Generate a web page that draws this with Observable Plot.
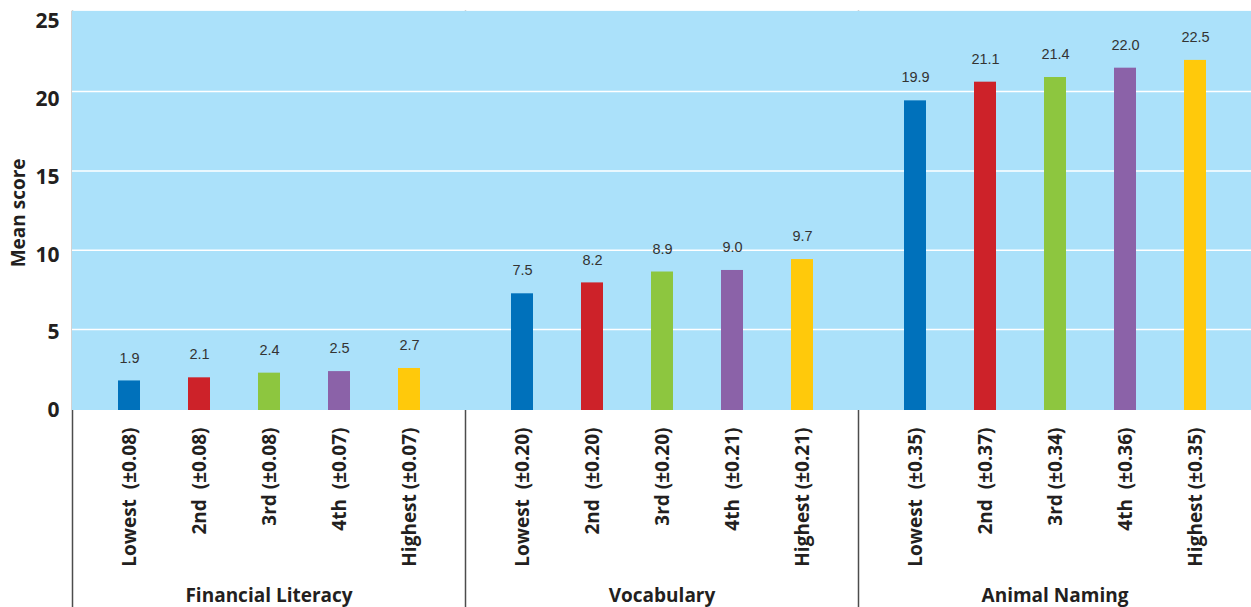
<!DOCTYPE html>
<html>
<head>
<meta charset="utf-8">
<script src="https://cdn.jsdelivr.net/npm/d3@7"></script>
<script src="https://cdn.jsdelivr.net/npm/@observablehq/plot@0.6"></script>
<style>
  html, body { margin: 0; padding: 0; background: #fff; }
</style>
</head>
<body>
<div id="chart"></div>
<script>
const groups = ["Financial Literacy", "Vocabulary", "Animal Naming"];
const quintiles = ["Lowest", "2nd", "3rd", "4th", "Highest"];
const quintileLabels = ["Lowest\u00a0 ", "2nd\u00a0 ", "3rd ", "4th\u00a0 ", "Highest "];
const financialLiteracy = [1.9, 2.1, 2.4, 2.5, 2.7];
const financialLiteracySE = [0.08, 0.08, 0.08, 0.07, 0.07];
const vocabulary = [7.5, 8.2, 8.9, 9.0, 9.7];
const vocabularySE = [0.20, 0.20, 0.20, 0.21, 0.21];
const animalNaming = [19.9, 21.1, 21.4, 22.0, 22.5];
const animalNamingSE = [0.35, 0.37, 0.34, 0.36, 0.35];
const yTicks = [0, 5, 10, 15, 20, 25];
// white gridlines as they sit in the reference (slightly off the tick values)
const gridLines = [5.2, 10.3, 15.4, 20.5];
const panelTop = 25.65;
const colors = ["#0071bb", "#cd2229", "#8dc63f", "#8b62a8", "#ffc90b"];

const seriesValues = [financialLiteracy, vocabulary, animalNaming];
const seriesSE = [financialLiteracySE, vocabularySE, animalNamingSE];
const data = [];
groups.forEach((g, gi) => {
  quintiles.forEach((q, qi) => {
    data.push({
      group: g,
      quintile: q,
      value: seriesValues[gi][qi],
      label: quintileLabels[qi] + "(\u00b1" + seriesSE[gi][qi].toFixed(2) + ")"
    });
  });
});

const chart = Plot.plot({
  width: 1251,
  height: 607,
  marginTop: 11,
  marginBottom: 0,
  marginLeft: 71,
  marginRight: 0,
  style: { fontFamily: "'Open Sans', sans-serif", background: "#fff", overflow: "visible" },
  fx: { domain: groups, padding: 0, axis: null },
  x: { domain: quintiles, paddingInner: 0.686, paddingOuter: 0.65, axis: null },
  y: { domain: [0, 25], range: [410, 21], axis: null },
  color: { domain: quintiles, range: colors },
  marks: [
    Plot.frame({ anchor: "left", stroke: "#4d4d4d", strokeWidth: 1.5 }),
    Plot.rect([0], { y1: 0, y2: panelTop, fill: "#abe1fa" }),
    Plot.ruleY(gridLines, { stroke: "#fff", strokeWidth: 1.5 }),
    Plot.barY(data, { fx: "group", x: "quintile", y: "value", fill: "quintile" }),
    Plot.text(data, {
      fx: "group", x: "quintile", y: "value",
      text: d => d.value.toFixed(1),
      dy: -23, fontSize: 14.5, fill: "#333",
      fontFamily: "'Liberation Sans', Arial, sans-serif"
    }),
    Plot.text(data, {
      fx: "group", x: "quintile", y: 0,
      text: "label",
      rotate: -90, textAnchor: "end", dy: 17,
      fontSize: 19, fontWeight: 700, fill: "#231f20"
    }),
    Plot.text(groups, {
      fx: d => d, y: 0, text: d => d,
      dy: 185, fontSize: 19, fontWeight: 700, fill: "#231f20"
    }),
    Plot.axisY(yTicks, {
      anchor: "left", tickSize: 0, tickPadding: 13, label: null,
      fontSize: 21, fontWeight: 700, color: "#231f20"
    }),
    Plot.text(["Mean score"], {
      fx: [groups[0]], y: [12.7], text: d => d,
      frameAnchor: "left", textAnchor: "middle", dx: -54, rotate: -90,
      fontSize: 19, fontWeight: 700, fill: "#231f20"
    })
  ]
});
document.getElementById("chart").appendChild(chart);
</script>
</body>
</html>
